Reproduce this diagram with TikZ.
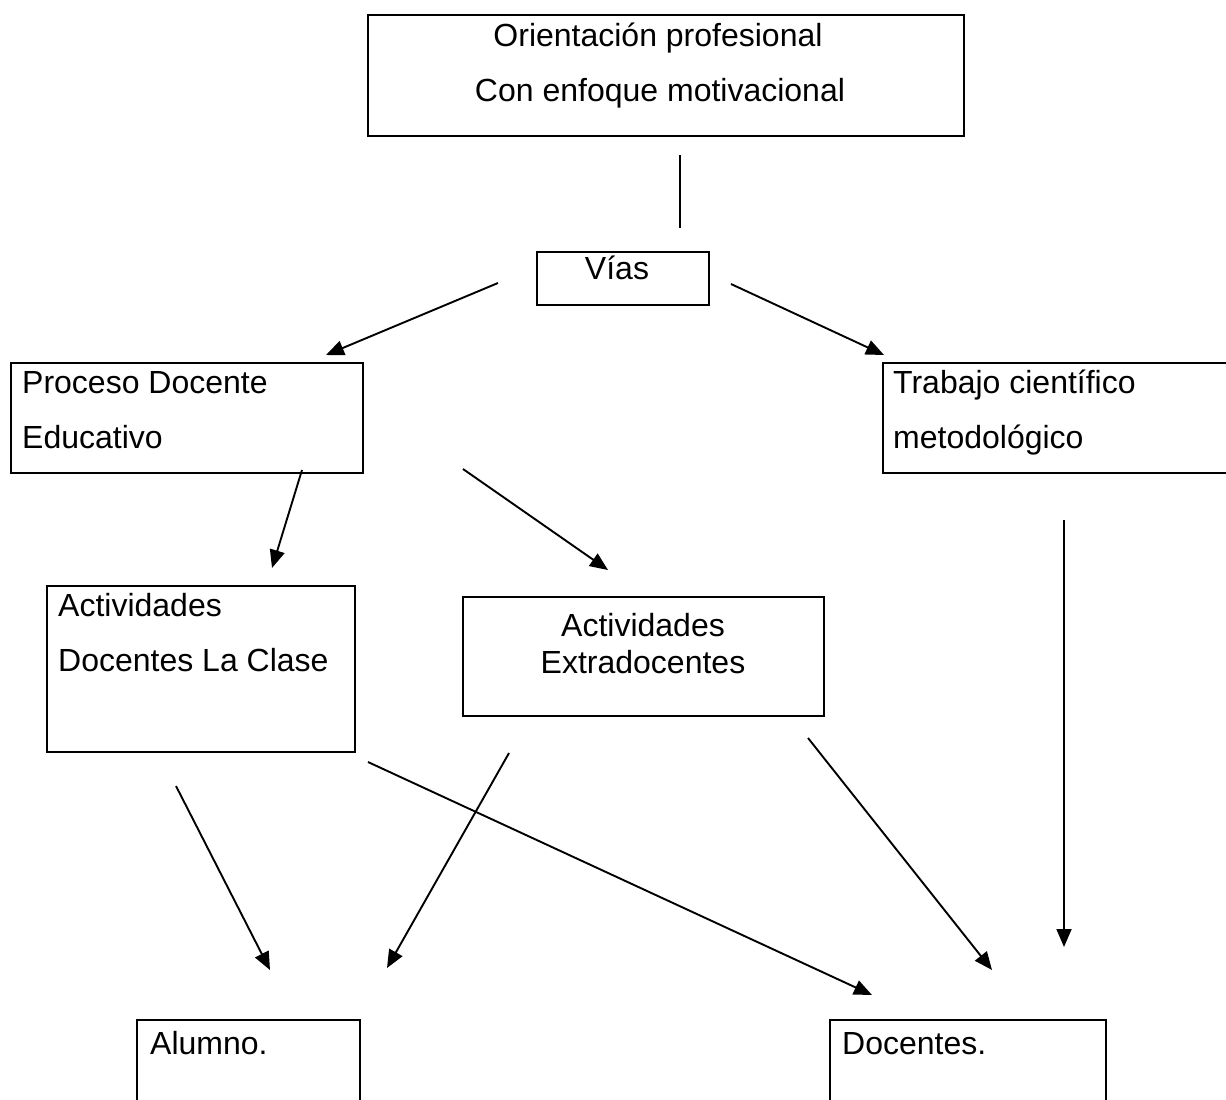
\documentclass[tikz,border=0pt]{standalone}
\usepackage{fontspec}
\setmainfont{Liberation Sans}
\usetikzlibrary{arrows.meta}
\begin{document}
\begin{tikzpicture}[x=1pt,y=-1pt,
  box/.style={draw,line width=2.2pt,rectangle,inner sep=0pt},
  txt/.style={inner sep=0pt,font=\fontsize{32}{38}\selectfont},
  arr/.style={line width=1.9pt,-{Triangle[length=18pt,width=15pt]}},
  ln/.style={line width=1.9pt}]
\useasboundingbox (0,0) rectangle (1226,1100);
\clip (0,0) rectangle (1226,1100);
\fill[white] (0,0) rectangle (1226,1100);
% boxes
\draw[box] (368,15) rectangle (964,136);
\draw[box] (537,252) rectangle (709,305);
\draw[box] (11,363) rectangle (363,473);
\draw[box] (883,363) rectangle (1240,473);
\draw[box] (47,586) rectangle (355,752);
\draw[box] (463,597) rectangle (824,716);
\draw[box] (137,1020) rectangle (360,1120);
\draw[box] (830,1020) rectangle (1106,1120);
% texts
\node[txt,anchor=base] (t1) at (658,46) {Orientación profesional};
\node[txt,anchor=base] (t2) at (660,101) {Con enfoque motivacional};
\node[txt,anchor=base] (vias) at (617,279) {Vías};
\node[txt,anchor=base west] (p1) at (22,393) {Proceso Docente};
\node[txt,anchor=base west] (p2) at (22,448) {Educativo};
\node[txt,anchor=base west] (tc1) at (893,393) {Trabajo científico};
\node[txt,anchor=base west] (tc2) at (893,448) {metodológico};
\node[txt,anchor=base west] (a1) at (58,616) {Actividades};
\node[txt,anchor=base west] (a2) at (58,671) {Docentes La Clase};
\node[txt,anchor=base] (e1) at (643,636) {Actividades};
\node[txt,anchor=base] (e2) at (643,673) {Extradocentes};
\node[txt,anchor=base west] (al) at (150,1054) {Alumno.};
\node[txt,anchor=base west] (do) at (842,1054) {Docentes.};
% connector endpoints
\coordinate (l0) at (680,155); \coordinate (l1) at (680,228);
\coordinate (v0) at (498,283); \coordinate (v1) at (326,355);
\coordinate (w0) at (731,284); \coordinate (w1) at (884,355);
\coordinate (p0) at (302,470); \coordinate (pa) at (272,568);
\coordinate (q0) at (463,469); \coordinate (qa) at (608,570);
\coordinate (r0) at (1064,520); \coordinate (ra) at (1064,947);
\coordinate (s0) at (176,786); \coordinate (sa) at (270,970);
\coordinate (u0) at (509,753); \coordinate (ua) at (387,968);
\coordinate (x0) at (368,762); \coordinate (xa) at (872,995);
\coordinate (y0) at (808,738); \coordinate (ya) at (992,970);
\draw[ln] (l0) -- (l1);
\draw[arr] (v0) -- (v1);
\draw[arr] (w0) -- (w1);
\draw[arr] (p0) -- (pa);
\draw[arr] (q0) -- (qa);
\draw[arr] (r0) -- (ra);
\draw[arr] (s0) -- (sa);
\draw[arr] (u0) -- (ua);
\draw[arr] (x0) -- (xa);
\draw[arr] (y0) -- (ya);
\end{tikzpicture}
\end{document}
